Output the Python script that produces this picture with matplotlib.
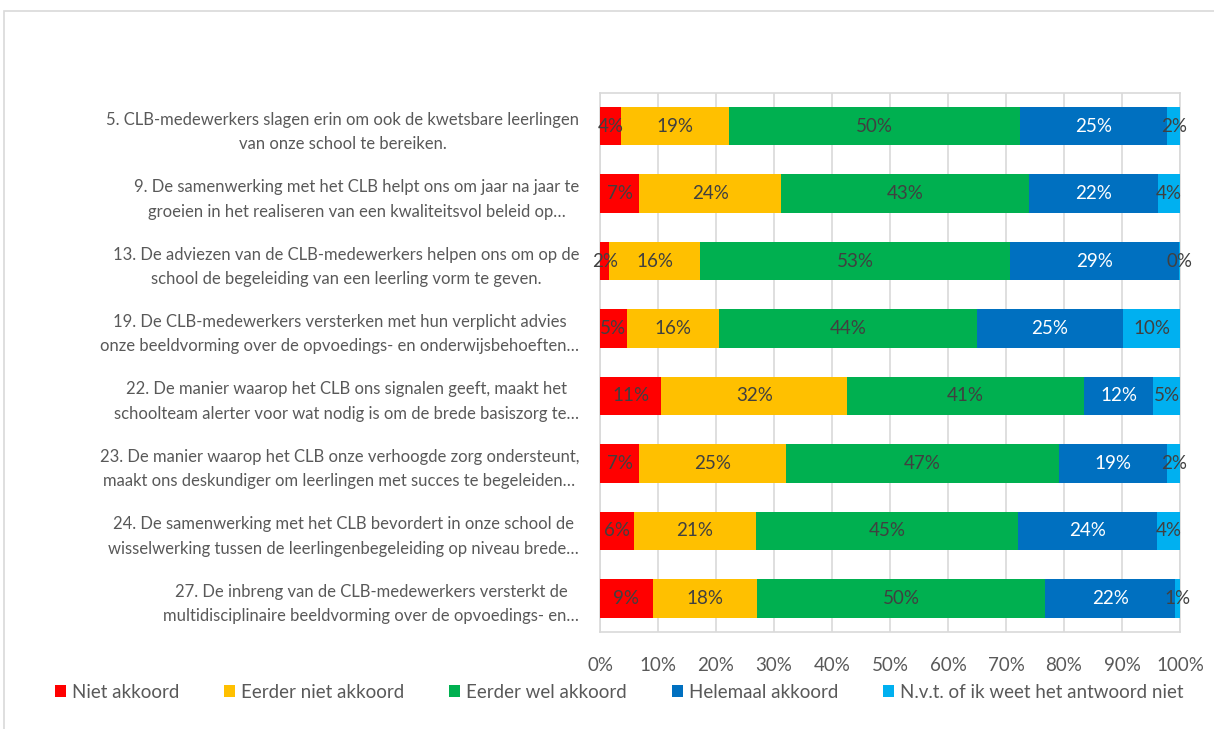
import matplotlib.pyplot as plt
import numpy as np
from matplotlib.patches import Rectangle

plt.rcParams['font.family'] = ['Lato', 'DejaVu Sans']

# survey statements (two lines, truncated like the original)
categories = [
    "5. CLB-medewerkers slagen erin om ook de kwetsbare leerlingen\nvan onze school te bereiken.",
    "9. De samenwerking met het CLB helpt ons om jaar na jaar te\ngroeien in het realiseren van een kwaliteitsvol beleid op…",
    "13. De adviezen van de CLB-medewerkers helpen ons om op de\nschool de begeleiding van een leerling vorm te geven.",
    "19. De CLB-medewerkers versterken met hun verplicht advies\nonze beeldvorming over de opvoedings- en onderwijsbehoeften…",
    "22. De manier waarop het CLB ons signalen geeft, maakt het\nschoolteam alerter voor wat nodig is om de brede basiszorg te…",
    "23. De manier waarop het CLB onze verhoogde zorg ondersteunt,\nmaakt ons deskundiger om leerlingen met succes te begeleiden…",
    "24. De samenwerking met het CLB bevordert in onze school de\nwisselwerking tussen de leerlingenbegeleiding op niveau brede…",
    "27. De inbreng van de CLB-medewerkers versterkt de\nmultidisciplinaire beeldvorming over de opvoedings- en…",
]

series_names = ["Niet akkoord", "Eerder niet akkoord", "Eerder wel akkoord",
                "Helemaal akkoord", "N.v.t. of ik weet het antwoord niet"]

# percentages per statement
niet_akkoord = [3.6, 6.8, 1.6, 4.6, 10.6, 6.8, 5.8, 9.1]
eerder_niet = [18.7, 24.4, 15.7, 16.0, 32.0, 25.2, 21.1, 18.0]
eerder_wel = [50.1, 42.7, 53.4, 44.4, 40.8, 47.1, 45.1, 49.6]
helemaal = [25.4, 22.3, 29.1, 25.2, 12.0, 18.7, 24.0, 22.5]
nvt = [2.2, 3.8, 0.2, 9.8, 4.6, 2.2, 4.0, 0.8]

colors = ["#FF0000", "#FFC000", "#00B050", "#0070C0", "#00B0F0"]
label_colors = ["#404040", "#404040", "#404040", "white", "#404040"]

fig = plt.figure(figsize=(12.14, 7.29), dpi=100)
ax = fig.add_axes([600 / 1214, 1 - 632 / 729, 580 / 1214, 539.5 / 729])

# outer chart border
fig.patches.append(Rectangle((4 / 1214, -0.01), 1.0, 1 - 11 / 729 + 0.01,
                             transform=fig.transFigure, fill=False,
                             edgecolor="#d9d9d9", linewidth=1.2))

y = np.arange(len(categories))
left = np.zeros(len(categories))
data = [niet_akkoord, eerder_niet, eerder_wel, helemaal, nvt]
for vals, name, col, lc in zip(data, series_names, colors, label_colors):
    vals = np.array(vals)
    bars = ax.barh(y, vals, left=left, height=0.57, color=col, label=name, zorder=3)
    for b, v in zip(bars, vals):
        ax.text(b.get_x() + b.get_width() / 2, b.get_y() + b.get_height() / 2,
                f"{round(v):d}%", ha="center", va="center", color=lc,
                fontsize=13.5, zorder=4)
    left += vals

ax.set_xlim(0, 100)
ax.set_ylim(len(categories) - 0.5, -0.5)
ax.set_xticks(np.arange(0, 101, 10))
ax.set_xticklabels([f"{t}%" for t in range(0, 101, 10)], fontsize=13.5, color="#595959")
ax.set_yticks(y)
ax.set_yticklabels(categories, fontsize=12, color="#595959",
                   multialignment="center", linespacing=1.65)
ax.tick_params(axis="both", length=0)
ax.tick_params(axis="x", pad=18)
ax.tick_params(axis="y", pad=15)
ax.grid(axis="x", color="#d9d9d9", linewidth=1.2, zorder=0)
for s in ax.spines.values():
    s.set_color("#d9d9d9")
    s.set_linewidth(1.2)

fig.legend(loc="center", bbox_to_anchor=(619 / 1214, 1 - 692 / 729), ncol=5,
           frameon=False, fontsize=13.5, handlelength=0.6, handleheight=0.6,
           handletextpad=0.3, columnspacing=2.4, labelcolor="#595959")

fig.savefig("out.png", dpi=100)
